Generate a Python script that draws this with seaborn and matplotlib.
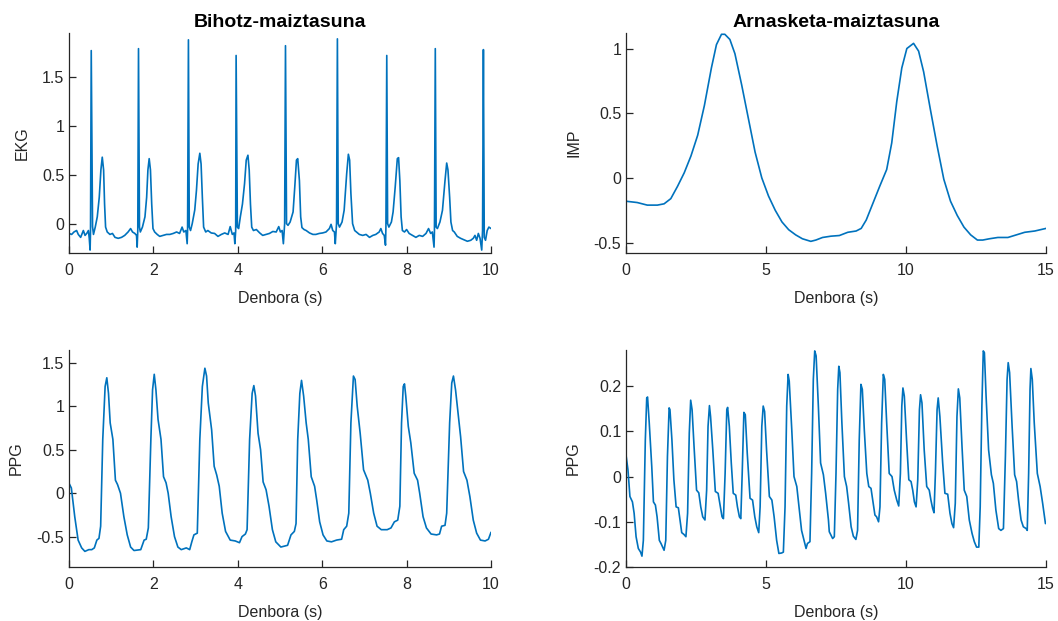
import numpy as np
import pandas as pd
import matplotlib
matplotlib.use("Agg")
import matplotlib.pyplot as plt
import seaborn as sns

# ---------------------------------------------------------------- data
# EKG (bihotz-maiztasuna), 0-10 s
ekg_t = [0.00, 0.063, 0.118, 0.18, 0.22, 0.276, 0.34, 0.38, 0.42, 0.46, 0.48, 0.50, 0.51, 0.527,
         0.558, 0.58, 0.622, 0.67, 0.717, 0.756, 0.788, 0.82, 0.843, 0.867, 0.906, 0.97, 1.03, 1.09,
         1.166, 1.245, 1.32, 1.40, 1.46, 1.505, 1.56, 1.60, 1.615, 1.63, 1.647,
         1.67, 1.69, 1.74, 1.80, 1.84, 1.87, 1.90, 1.93, 1.96, 1.99, 2.03, 2.09, 2.15, 2.23, 2.31,
         2.39, 2.47, 2.55, 2.62, 2.68, 2.72, 2.77, 2.80, 2.81, 2.83,
         2.85, 2.88, 2.92, 2.98, 3.02, 3.06, 3.10, 3.13, 3.16, 3.19, 3.24, 3.29, 3.37, 3.45, 3.53,
         3.61, 3.69, 3.77, 3.82, 3.87, 3.91, 3.93, 3.95, 3.96,
         3.99, 4.02, 4.06, 4.11, 4.16, 4.20, 4.24, 4.27, 4.30, 4.33, 4.37, 4.44, 4.52, 4.59, 4.67,
         4.75, 4.83, 4.91, 4.97, 5.01, 5.05, 5.08, 5.11, 5.13,
         5.155, 5.19, 5.24, 5.31, 5.35, 5.39, 5.42, 5.46, 5.49, 5.52, 5.57, 5.62, 5.70, 5.78, 5.85,
         5.93, 6.01, 6.09, 6.17, 6.21, 6.25, 6.29, 6.31, 6.34, 6.36,
         6.38, 6.41, 6.47, 6.52, 6.58, 6.62, 6.65, 6.68, 6.72, 6.77, 6.81, 6.88, 6.96, 7.04, 7.12,
         7.20, 7.27, 7.35, 7.39, 7.43, 7.47, 7.50, 7.51, 7.53,
         7.55, 7.58, 7.64, 7.68, 7.73, 7.78, 7.81, 7.84, 7.87, 7.90, 7.95, 8.00, 8.06, 8.14, 8.22,
         8.30, 8.38, 8.46, 8.52, 8.57, 8.61, 8.65, 8.66, 8.68,
         8.70, 8.73, 8.79, 8.85, 8.91, 8.95, 8.98, 9.02, 9.05, 9.09, 9.13, 9.20, 9.28, 9.36, 9.44,
         9.52, 9.58, 9.62, 9.66, 9.70, 9.74, 9.78, 9.80, 9.82,
         9.84, 9.87, 9.91, 9.95, 10.0]
ekg_v = [-0.10, -0.11, -0.085, -0.07, -0.11, -0.14, -0.07, -0.12, -0.10, -0.07, -0.15, -0.27, -0.07, 1.77,
         -0.03, -0.11, -0.035, 0.07, 0.27, 0.55, 0.68, 0.55, 0.20, -0.035, -0.085, -0.11, -0.10, -0.14,
         -0.15, -0.14, -0.12, -0.085, -0.05, -0.085, -0.10, -0.12, -0.24, -0.07, 1.79,
         -0.035, -0.085, -0.035, 0.07, 0.27, 0.55, 0.665, 0.55, 0.20, -0.05, -0.085, -0.11, -0.13, -0.12, -0.11,
         -0.11, -0.10, -0.085, -0.10, -0.035, -0.085, -0.07, -0.205, -0.07, 1.88,
         -0.035, -0.07, 0.0, 0.14, 0.34, 0.61, 0.72, 0.61, 0.27, -0.035, -0.085, -0.07, -0.095, -0.10, -0.13,
         -0.11, -0.095, -0.11, -0.03, -0.11, -0.095, -0.205, -0.07, 1.72,
         -0.035, -0.05, 0.07, 0.20, 0.41, 0.65, 0.70, 0.55, 0.20, -0.035, -0.07, -0.06, -0.095, -0.12, -0.11,
         -0.10, -0.08, -0.085, -0.03, -0.085, -0.07, -0.205, 0.0, 1.82,
         0.0, -0.017, 0.017, 0.12, 0.375, 0.65, 0.665, 0.44, 0.07, -0.04, -0.06, -0.07, -0.095, -0.11, -0.11,
         -0.10, -0.095, -0.085, -0.05, -0.007, -0.07, -0.085, -0.205, 0.0, 1.89,
         0.0, -0.035, 0.017, 0.137, 0.51, 0.71, 0.65, 0.31, 0.0, -0.07, -0.085, -0.11, -0.12, -0.11, -0.14,
         -0.12, -0.11, -0.085, -0.05, -0.10, -0.12, -0.22, -0.035, 1.72,
         0.0, -0.035, 0.017, 0.12, 0.375, 0.665, 0.675, 0.44, 0.07, -0.07, -0.085, -0.06, -0.10, -0.12, -0.14,
         -0.12, -0.13, -0.10, -0.05, -0.10, -0.085, -0.24, -0.07, 1.79,
         -0.035, -0.05, 0.017, 0.137, 0.44, 0.62, 0.55, 0.27, 0.017, -0.07, -0.085, -0.13, -0.15, -0.165, -0.18,
         -0.17, -0.15, -0.12, -0.17, -0.10, -0.15, -0.27, -0.07, 1.78,
         -0.14, -0.17, -0.07, -0.035, -0.05]

# PPG (bihotz-maiztasuna), 0-10 s
ppg1_t = [0.00, 0.056, 0.136, 0.216, 0.30, 0.376, 0.47, 0.54, 0.60, 0.66, 0.71, 0.75, 0.80, 0.856,
          0.896, 0.936, 0.976, 1.04, 1.10, 1.15, 1.22, 1.30, 1.38, 1.46, 1.54, 1.70, 1.78, 1.83, 1.88,
          1.94, 1.98, 2.02, 2.06, 2.11, 2.18, 2.24, 2.30, 2.35, 2.42, 2.50, 2.58, 2.66, 2.78, 2.86, 2.91,
          2.96, 3.04, 3.10, 3.16, 3.22, 3.26, 3.30, 3.38, 3.44, 3.50, 3.56, 3.63, 3.71, 3.82, 3.94, 4.04,
          4.10, 4.18, 4.22, 4.28, 4.34, 4.38, 4.42, 4.48, 4.54, 4.60, 4.67,
          4.74, 4.82, 4.90, 5.02, 5.18, 5.26, 5.34, 5.38, 5.42, 5.47, 5.51, 5.56, 5.62, 5.67, 5.74, 5.82,
          5.87, 5.94, 6.02, 6.11, 6.22, 6.34, 6.46, 6.51, 6.58, 6.63, 6.68, 6.74, 6.78, 6.83, 6.90, 6.98,
          7.08, 7.14, 7.22, 7.30, 7.40, 7.54, 7.63, 7.71, 7.79, 7.84, 7.88, 7.92, 7.95, 7.98, 8.04, 8.10,
          8.18, 8.26, 8.31, 8.39, 8.47, 8.58, 8.71, 8.78, 8.83, 8.91, 8.95, 9.02, 9.07, 9.11, 9.16, 9.22,
          9.28, 9.35, 9.43, 9.50, 9.58, 9.66, 9.75, 9.86, 9.94, 10.0]
ppg1_v = [0.115, 0.06, -0.27, -0.54, -0.63, -0.67, -0.65, -0.65, -0.63, -0.54, -0.52, -0.38, 0.62, 1.23,
          1.33, 1.15, 0.81, 0.62, 0.15, 0.10, 0.0, -0.27, -0.48, -0.62, -0.66, -0.65, -0.54, -0.53, -0.40,
          0.62, 1.19, 1.37, 1.19, 0.85, 0.62, 0.19, 0.12, 0.0, -0.27, -0.50, -0.62, -0.65, -0.63, -0.65, -0.56,
          -0.48, -0.46, 0.62, 1.23, 1.44, 1.35, 1.04, 0.73, 0.31, 0.21, 0.08, -0.23, -0.44, -0.54, -0.55, -0.57,
          -0.50, -0.47, -0.42, 0.62, 1.15, 1.24, 1.12, 0.69, 0.50, 0.13, 0.04,
          -0.15, -0.42, -0.56, -0.62, -0.60, -0.48, -0.44, -0.35, 0.62, 1.15, 1.30, 1.12, 0.81, 0.62, 0.19, 0.08,
          -0.08, -0.33, -0.48, -0.55, -0.56, -0.54, -0.53, -0.42, -0.38, -0.23, 0.81, 1.35, 1.31, 1.0, 0.69, 0.27,
          0.15, 0.0, -0.23, -0.38, -0.42, -0.42, -0.40, -0.33, -0.31, -0.15, 0.81, 1.23, 1.26, 1.12, 0.77, 0.58,
          0.23, 0.15, 0.0, -0.27, -0.40, -0.47, -0.48, -0.47, -0.38, -0.37, -0.23, 0.81, 1.27, 1.35, 1.19, 0.92,
          0.65, 0.25, 0.15, -0.04, -0.31, -0.46, -0.54, -0.55, -0.53, -0.45]

# IMP (arnasketa-maiztasuna), 0-15 s
imp_t = [0.00, 0.40, 0.76, 1.12, 1.36, 1.60, 1.84, 2.08, 2.32, 2.56, 2.80, 3.05, 3.23, 3.41, 3.53,
         3.71, 3.89, 4.13, 4.37, 4.61, 4.85, 5.09, 5.33, 5.57, 5.81, 6.06, 6.30, 6.60, 6.78, 7.02,
         7.32, 7.62, 7.92, 8.22, 8.40, 8.58, 8.82, 9.06, 9.31, 9.49, 9.67, 9.85, 10.03, 10.27, 10.45,
         10.63, 10.87, 11.11, 11.35, 11.59, 11.83, 12.07, 12.31, 12.55, 12.74, 12.98, 13.28, 13.64,
         13.94, 14.24, 14.60, 15.0]
imp_v = [-0.18, -0.19, -0.21, -0.21, -0.20, -0.16, -0.065, 0.04, 0.17, 0.33, 0.56, 0.85, 1.03, 1.11, 1.11,
         1.07, 0.96, 0.72, 0.46, 0.20, 0.0, -0.14, -0.25, -0.34, -0.40, -0.44, -0.47, -0.49, -0.48, -0.46,
         -0.45, -0.445, -0.42, -0.41, -0.39, -0.325, -0.195, -0.065, 0.065, 0.27, 0.59, 0.85, 1.0, 1.04, 0.98,
         0.82, 0.53, 0.25, -0.01, -0.18, -0.29, -0.38, -0.44, -0.48, -0.48, -0.47, -0.46, -0.46,
         -0.44, -0.42, -0.41, -0.39]

# PPG (arnasketa-maiztasuna), 0-15 s
ppg2_t = [0.00, 0.07, 0.14, 0.23, 0.29, 0.36, 0.44, 0.52, 0.57, 0.62, 0.69, 0.74, 0.77, 0.83, 0.92,
          0.98, 1.05, 1.11, 1.19, 1.25, 1.36, 1.42, 1.48, 1.54, 1.57, 1.64, 1.71, 1.79, 1.87, 1.93,
          1.99, 2.07, 2.14, 2.20, 2.26, 2.31, 2.36, 2.43, 2.52, 2.60, 2.67, 2.74, 2.82, 2.88, 2.93,
          2.98, 3.02, 3.10, 3.19, 3.29, 3.36, 3.43, 3.48, 3.54, 3.60, 3.63, 3.69, 3.76, 3.83, 3.92,
          3.98, 4.05, 4.10, 4.15, 4.21, 4.26, 4.33, 4.43, 4.52, 4.60, 4.67, 4.74, 4.79, 4.85, 4.90,
          4.95, 5.02, 5.12, 5.21, 5.29, 5.38, 5.46, 5.56, 5.62, 5.68, 5.74, 5.79, 5.83, 5.92, 6.00,
          6.10, 6.18, 6.27, 6.36, 6.43, 6.48, 6.57, 6.63, 6.69, 6.74, 6.79, 6.87, 6.95, 7.05, 7.13,
          7.23, 7.26, 7.38, 7.44, 7.50, 7.56, 7.60, 7.64, 7.71, 7.80, 7.88, 7.95, 8.04, 8.12, 8.21,
          8.27, 8.33, 8.39, 8.44, 8.51, 8.60, 8.67, 8.75, 8.81, 8.89, 8.95, 9.02, 9.07, 9.13, 9.19,
          9.24, 9.31, 9.40, 9.50, 9.58, 9.67, 9.74, 9.80, 9.85, 9.89, 9.94, 10.02, 10.10, 10.18, 10.24,
          10.30, 10.36, 10.42, 10.48, 10.52, 10.57, 10.65, 10.74, 10.83, 10.89, 10.95, 11.00, 11.05,
          11.11, 11.15, 11.21, 11.31, 11.39, 11.49, 11.57, 11.64, 11.70, 11.76, 11.82, 11.87, 11.92,
          12.00, 12.08, 12.17, 12.26, 12.36, 12.44, 12.52, 12.60, 12.65, 12.71, 12.76, 12.80, 12.86,
          12.95, 13.05, 13.12, 13.21, 13.31, 13.39, 13.48, 13.55, 13.61, 13.65, 13.70, 13.79, 13.88,
          13.95, 14.02, 14.11, 14.19, 14.29, 14.33, 14.38, 14.43, 14.46, 14.51, 14.58, 14.69, 14.79,
          14.88, 14.98]
ppg2_v = [0.048, 0.015, -0.044, -0.056, -0.081, -0.133, -0.159, -0.167, -0.176, -0.141, 0.081, 0.174, 0.176, 0.119, 0.022,
          -0.056, -0.063, -0.089, -0.141, -0.148, -0.163, -0.141, 0.044, 0.152, 0.148, 0.081, -0.007, -0.067, -0.069, -0.096,
          -0.124, -0.128, -0.133, -0.081, 0.096, 0.169, 0.148, 0.067, -0.030, -0.036, -0.067, -0.089, -0.096, -0.030, 0.111,
          0.157, 0.133, 0.059, -0.033, -0.037, -0.063, -0.089, -0.093, 0.007, 0.148, 0.153, 0.111, 0.030, -0.037, -0.041,
          -0.067, -0.089, -0.093, 0.007, 0.142, 0.137, 0.052, -0.048, -0.052, -0.089, -0.111, -0.124, -0.067, 0.111, 0.156,
          0.144, 0.059, -0.044, -0.052, -0.089, -0.141, -0.170, -0.169, -0.167, -0.067, 0.156, 0.226, 0.211, 0.104, 0.0,
          -0.022, -0.067, -0.119, -0.141, -0.159, -0.148, -0.144, 0.007, 0.215, 0.278, 0.267, 0.156, 0.030, 0.004, -0.037,
          -0.096, -0.122, -0.137, -0.133, 0.007, 0.193, 0.244, 0.230, 0.119, 0.0, -0.022, -0.059, -0.111, -0.132, -0.139,
          -0.119, 0.081, 0.204, 0.193, 0.104, 0.007, -0.022, -0.026, -0.052, -0.085, -0.089, -0.100, -0.067, 0.119, 0.226,
          0.215, 0.119, 0.007, 0.0, -0.030, -0.052, -0.065, 0.007, 0.156, 0.196, 0.178, 0.081, -0.007, -0.011, -0.030,
          -0.056, -0.067, -0.007, 0.148, 0.181, 0.163, 0.059, -0.022, -0.030, -0.052, -0.070, -0.080, 0.007,
          0.148, 0.174, 0.133, 0.030, -0.037, -0.039, -0.081, -0.104, -0.113, -0.059, 0.133, 0.194, 0.174,
          0.067, -0.030, -0.044, -0.096, -0.126, -0.144, -0.156, -0.156, -0.067, 0.156, 0.278, 0.274, 0.178,
          0.059, 0.004, -0.015, -0.074, -0.115, -0.119, -0.115, 0.044, 0.215, 0.252, 0.230, 0.111, 0.004,
          -0.011, -0.052, -0.096, -0.111, -0.115, -0.119, 0.007, 0.193, 0.239, 0.215, 0.119, 0.007, -0.022,
          -0.059, -0.104]

titles = ["Bihotz-maiztasuna", "Arnasketa-maiztasuna"]
xlabel = "Denbora (s)"
ylabels = ["EKG", "IMP", "PPG", "PPG"]

# ---------------------------------------------------------------- style
sns.set_theme(style="white")
plt.rcParams["font.family"] = ["Liberation Sans", "DejaVu Sans"]
ink = "#262626"
line_color = "#0072BD"

fig = plt.figure(figsize=(10.58, 6.21), dpi=100)
W, H = 1058, 621


def make_axes(x0, x1, y0, y1):
    return fig.add_axes([x0 / W, 1 - y1 / H, (x1 - x0) / W, (y1 - y0) / H])


panels = [
    (make_axes(69, 491, 33, 253), ekg_t, ekg_v, (0, 10), (-0.30, 1.95),
     [0, 2, 4, 6, 8, 10], [0, 0.5, 1, 1.5], ["0", "0.5", "1", "1.5"], ylabels[0], titles[0]),
    (make_axes(626, 1046, 33, 253), imp_t, imp_v, (0, 15), (-0.58, 1.12),
     [0, 5, 10, 15], [-0.5, 0, 0.5, 1], ["-0.5", "0", "0.5", "1"], ylabels[1], titles[1]),
    (make_axes(69, 491, 350, 567), ppg1_t, ppg1_v, (0, 10), (-0.85, 1.65),
     [0, 2, 4, 6, 8, 10], [-0.5, 0, 0.5, 1, 1.5], ["-0.5", "0", "0.5", "1", "1.5"], ylabels[2], None),
    (make_axes(626, 1046, 350, 567), ppg2_t, ppg2_v, (0, 15), (-0.2, 0.28),
     [0, 5, 10, 15], [-0.2, -0.1, 0, 0.1, 0.2], ["-0.2", "-0.1", "0", "0.1", "0.2"], ylabels[3], None),
]

for ax, t, v, xl, yl, xt, yt, ytl, ylab, title in panels:
    df = pd.DataFrame({"t": t, "v": v})
    sns.lineplot(data=df, x="t", y="v", ax=ax, color=line_color, linewidth=1.2,
                 estimator=None, sort=False)
    ax.set_xlim(*xl)
    ax.set_ylim(*yl)
    ax.set_xticks(xt)
    ax.set_xticklabels([str(x) for x in xt])
    ax.set_yticks(yt)
    ax.set_yticklabels(ytl)
    ax.set_xlabel(xlabel, fontsize=11.5, color=ink, labelpad=9)
    ax.set_ylabel(ylab, fontsize=11.5, color=ink, labelpad=9)
    if title:
        ax.set_title(title, fontsize=14, fontweight="bold", color="black", pad=4.5)
    for side in ("top", "right"):
        ax.spines[side].set_visible(False)
    for side in ("left", "bottom"):
        ax.spines[side].set_color(ink)
        ax.spines[side].set_linewidth(0.9)
    ax.tick_params(direction="in", length=5, width=0.9, color=ink, labelcolor=ink,
                   labelsize=11.5, left=True, bottom=True)
    ax.tick_params(axis="x", pad=7.5)
    ax.tick_params(axis="y", pad=3.5)
    ax.set_facecolor("white")

fig.savefig("out.png", dpi=100, facecolor="white")
